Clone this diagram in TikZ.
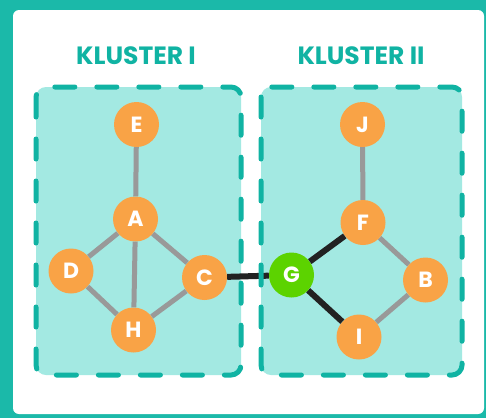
\documentclass[tikz,border=0pt]{standalone}
\usepackage{fontspec}
\setmainfont{Poppins}
\definecolor{frame}{HTML}{1BB9A9}
\definecolor{boxfill}{HTML}{A3E9E2}
\definecolor{boxline}{HTML}{10B3A3}
\definecolor{nodeor}{HTML}{F9A346}
\definecolor{nodegr}{HTML}{5CD300}
\definecolor{edgegray}{HTML}{999999}
\definecolor{edgedark}{HTML}{222222}
\begin{document}
\begin{tikzpicture}[x=1pt,y=-1pt,
  vert/.style={circle,fill=nodeor,minimum size=45pt,inner sep=0pt,text=white,font=\bfseries\fontsize{22}{22}\selectfont},
  gvert/.style={vert,fill=nodegr},
  ledge/.style={draw=edgegray,line width=5pt},
  dedge/.style={draw=edgedark,line width=6pt},
  clusterfill/.style={fill=boxfill,rounded corners=10pt},
  clusterline/.style={draw=boxline,line width=5pt,line cap=round,dash pattern=on 20pt off 22pt,rounded corners=10pt},
  title/.style={text=boxline,font=\bfseries\fontsize{25}{25}\selectfont}]
\fill[frame] (0,0) rectangle (486,418);
\fill[white,rounded corners=6pt] (13,10) rectangle (484,414);
\useasboundingbox (0,0) rectangle (486,418);
\fill[clusterfill] (36,87) rectangle (241,375);
\fill[clusterfill] (261,87) rectangle (462,375);
\node[title] (t1) at (136,56) {KLUSTER I};
\node[title] (t2) at (361,56) {KLUSTER II};
\node[vert] (E) at (136.5,124.5) {E};
\node[vert] (A) at (135.5,219) {A};
\node[vert] (D) at (71,271) {D};
\node[vert] (C) at (204.5,277.5) {C};
\node[vert] (H) at (133.5,330) {H};
\node[vert] (J) at (362.5,124.5) {J};
\node[vert] (F) at (363,222.5) {F};
\node[gvert] (G) at (291.5,275) {G};
\node[vert] (B) at (425.5,280) {B};
\node[vert] (I) at (359,337) {I};
\path[ledge] (E) -- (A);
\path[ledge] (A) -- (D);
\path[ledge] (A) -- (C);
\path[ledge] (A) -- (H);
\path[ledge] (D) -- (H);
\path[ledge] (H) -- (C);
\path[ledge] (J) -- (F);
\path[ledge] (F) -- (B);
\path[ledge] (B) -- (I);
\path[dedge] (C) -- (G);
\path[dedge] (G) -- (F);
\path[dedge] (G) -- (I);
\draw[clusterline] (36,87) rectangle (241,375);
\draw[clusterline] (261,87) rectangle (462,375);
\end{tikzpicture}
\end{document}
